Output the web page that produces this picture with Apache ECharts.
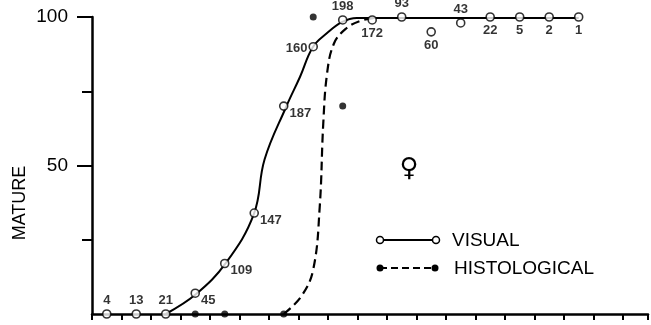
<!DOCTYPE html>
<html>
<head>
<meta charset="utf-8">
<script src="https://cdn.jsdelivr.net/npm/echarts@6/dist/echarts.min.js"></script>
<style>
  html, body { margin: 0; padding: 0; background: #fff; }
  #chart { width: 651px; height: 325px; }
</style>
</head>
<body>
<div id="chart"></div>
<script>
// age class midpoints (x) and percent mature
const visualX = [0.5, 1.5, 2.5, 3.5, 4.5, 5.5, 6.5, 7.5, 8.5, 9.5, 10.5, 11.5, 12.5, 13.5, 14.5, 15.5, 16.5];
const visualPct = [0, 0, 0, 7, 17, 34, 70, 90, 99, 99, 100, 95, 98, 100, 100, 100, 100];
const visualN = [4, 13, 21, 45, 109, 147, 187, 160, 198, 172, 93, 60, 43, 22, 5, 2, 1];
const labelSide = ['top', 'top', 'top', 'right', 'right', 'right', 'right', 'left', 'top',
    'bottom', 'top', 'bottom', 'top', 'bottom', 'bottom', 'bottom', 'bottom'];

const histX = [3.5, 4.5, 6.5, 7.5, 8.5];
const histPct = [0, 0, 0, 100, 70];

// hand drawn fitted curves
const visualFitX = [2.5, 3.53, 4.54, 5.49, 5.85, 6.58, 7.05, 7.49, 7.97, 8.47, 8.98, 9.5, 16.5];
const visualFitY = [0, 6.7, 17.2, 33.7, 52, 69.7, 79.8, 89.9, 94.6, 98.3, 99.7, 99.7, 99.7];
const histFitX = [6.5, 7.1, 7.5, 7.72, 7.84, 7.97, 8.2, 8.6, 9.1, 9.6];
const histFitY = [0, 6, 15, 36, 64, 81, 91, 96, 98.7, 99.7];

const yMajor = [50, 100];
const yMinor = [25, 50, 75, 100];

const FONT = '"Liberation Sans", Arial, sans-serif';

let labelStyle = {
    top: { position: 'top', distance: 2, offset: [0, 0] },
    bottom: { position: 'bottom', distance: 2, offset: [0, 0] },
    right: { position: 'right', distance: 1, offset: [0, 7] },
    left: { position: 'left', distance: 1, offset: [0, 2] }
};

let zip = (xs, ys) => xs.map((x, i) => [x, ys[i]]);

let chart = echarts.init(document.getElementById('chart'), null, { renderer: 'canvas' });

let axisLine = { show: true, lineStyle: { color: '#000', width: 2.5 } };

chart.setOption({
    animation: false,
    backgroundColor: '#fff',
    grid: { left: 92, top: 17, right: 3, bottom: 11, containLabel: false },
    xAxis: {
        type: 'value',
        min: 0,
        max: 18.85,
        interval: 1,
        axisLine,
        axisTick: { show: true, inside: false, length: 6, lineStyle: { color: '#000', width: 2 } },
        axisLabel: { show: false },
        splitLine: { show: false }
    },
    yAxis: [{
        type: 'value',
        min: 0,
        max: 100,
        interval: 25,
        axisLine,
        axisTick: { show: true, customValues: yMinor, length: 10, lineStyle: { color: '#000', width: 2 } },
        axisLabel: { show: false },
        splitLine: { show: false }
    }, {
        type: 'value',
        position: 'left',
        min: 0,
        max: 100,
        interval: 50,
        axisLine: { show: false },
        axisTick: { show: true, customValues: yMajor, length: 15, lineStyle: { color: '#000', width: 2 } },
        axisLabel: {
            show: true,
            customValues: yMajor,
            margin: 24,
            color: '#000',
            fontSize: 19,
            fontFamily: FONT
        },
        splitLine: { show: false }
    }],
    series: [{
        name: 'VISUAL fit',
        type: 'line',
        data: zip(visualFitX, visualFitY),
        smooth: 0.4,
        symbol: 'none',
        lineStyle: { color: '#000', width: 2 },
        z: 2
    }, {
        name: 'HISTOLOGICAL fit',
        type: 'line',
        data: zip(histFitX, histFitY),
        smooth: 0.4,
        symbol: 'none',
        lineStyle: { color: '#000', width: 2.2, type: [9, 5] },
        z: 2
    }, {
        name: 'HISTOLOGICAL',
        type: 'scatter',
        data: zip(histX, histPct),
        symbol: 'circle',
        symbolSize: 7,
        itemStyle: { color: '#000' },
        z: 3
    }, {
        name: 'VISUAL',
        type: 'scatter',
        data: visualX.map((x, i) => ({
            value: [x, visualPct[i], visualN[i]],
            label: labelStyle[labelSide[i]]
        })),
        symbol: 'circle',
        symbolSize: 8,
        itemStyle: { color: '#fff', borderColor: '#000', borderWidth: 1.6 },
        label: {
            show: true,
            formatter: p => String(p.value[2]),
            color: '#000',
            fontSize: 13,
            fontWeight: 'bold',
            fontFamily: FONT
        },
        z: 4
    }],
    graphic: [{
        type: 'text',
        x: 20,
        y: 203,
        rotation: Math.PI / 2,
        style: {
            text: 'MATURE',
            fill: '#000',
            font: '18px ' + FONT,
            align: 'center',
            verticalAlign: 'middle'
        }
    }, {
        type: 'text',
        x: 409,
        y: 169,
        style: {
            text: '♀',
            fill: '#000',
            font: 'bold 26px "DejaVu Sans"',
            align: 'center',
            verticalAlign: 'middle'
        }
    },
    // legend: visual
    {
        type: 'line',
        shape: { x1: 380, y1: 240, x2: 436, y2: 240 },
        style: { stroke: '#000', lineWidth: 2 }
    }, {
        type: 'circle',
        shape: { cx: 380, cy: 240, r: 3.5 },
        style: { fill: '#fff', stroke: '#000', lineWidth: 1.5 }
    }, {
        type: 'circle',
        shape: { cx: 436, cy: 240, r: 3.5 },
        style: { fill: '#fff', stroke: '#000', lineWidth: 1.5 }
    }, {
        type: 'text',
        x: 452,
        y: 241,
        style: { text: 'VISUAL', fill: '#000', font: '19px ' + FONT, verticalAlign: 'middle' }
    },
    // legend: histological
    {
        type: 'line',
        shape: { x1: 380, y1: 268, x2: 435, y2: 268 },
        style: { stroke: '#000', lineWidth: 2, lineDash: [7, 4] }
    }, {
        type: 'circle',
        shape: { cx: 380, cy: 268, r: 3.5 },
        style: { fill: '#000' }
    }, {
        type: 'circle',
        shape: { cx: 435, cy: 268, r: 3.5 },
        style: { fill: '#000' }
    }, {
        type: 'text',
        x: 454,
        y: 269,
        style: { text: 'HISTOLOGICAL', fill: '#000', font: '19px ' + FONT, verticalAlign: 'middle' }
    }]
});
</script>
</body>
</html>
